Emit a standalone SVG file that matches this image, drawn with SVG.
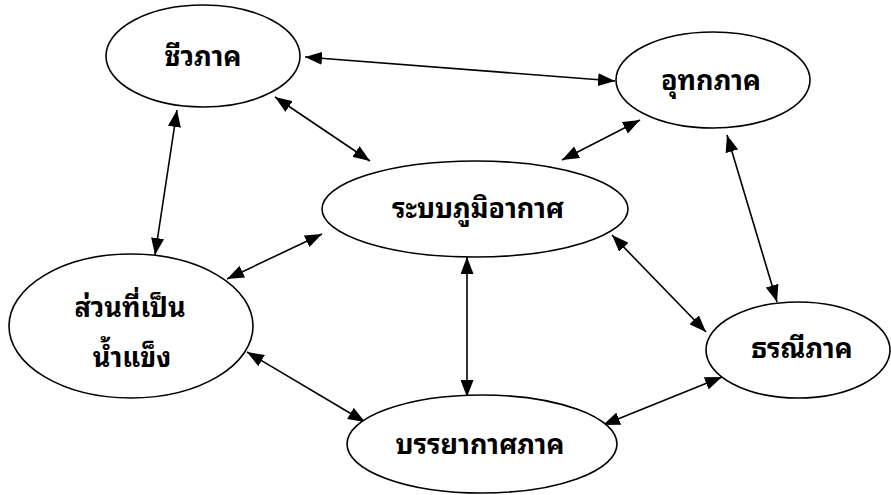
<svg xmlns="http://www.w3.org/2000/svg" width="891" height="495" viewBox="0 0 891 495">
<style>
.node ellipse{fill:#fff;stroke:#000;stroke-width:1.6}
.node text{font-family:"Noto Sans Thai Looped","Noto Sans Thai","Tahoma","Noto Sans","DejaVu Sans",sans-serif;font-size:27px;font-weight:bold;text-anchor:middle;fill:#000}
.conn line{stroke:#000;stroke-width:1.6;marker-start:url(#ah);marker-end:url(#ah)}
</style>
<defs>
<marker id="ah" viewBox="0 0 17 13" refX="17" refY="6.5" markerWidth="17" markerHeight="13" markerUnits="userSpaceOnUse" orient="auto-start-reverse">
<path d="M0,0 L17,6.5 L0,13 Z" fill="#000"/>
</marker>
</defs>
<rect width="891" height="495" fill="#fff"/>
<g class="conn">
<line x1="305" y1="57" x2="615" y2="81"/>
<line x1="275" y1="97" x2="370" y2="161"/>
<line x1="640" y1="120" x2="562" y2="160"/>
<line x1="177" y1="110" x2="155" y2="255"/>
<line x1="322" y1="234" x2="227" y2="279"/>
<line x1="467" y1="257" x2="467" y2="397"/>
<line x1="612" y1="235" x2="706" y2="332"/>
<line x1="727" y1="135" x2="777" y2="302"/>
<line x1="247" y1="352" x2="365" y2="422"/>
<line x1="603" y1="425" x2="722" y2="377"/>
</g>
<g id="n-biosphere" class="node"><ellipse cx="203" cy="56" rx="97" ry="51"/><text x="203" y="66">ชีวภาค</text></g>
<g id="n-hydrosphere" class="node"><ellipse cx="713" cy="80" rx="97" ry="48"/><text x="711" y="90">อุทกภาค</text></g>
<g id="n-climate" class="node"><ellipse cx="475" cy="209" rx="153" ry="48"/><text x="478" y="218">ระบบภูมิอากาศ</text></g>
<g id="n-cryosphere" class="node"><ellipse cx="131" cy="326" rx="122" ry="72"/><text x="130" y="317">ส่วนที่เป็น</text><text x="132" y="367">น้ำแข็ง</text></g>
<g id="n-lithosphere" class="node"><ellipse cx="798" cy="350" rx="92" ry="48"/><text x="802" y="358">ธรณีภาค</text></g>
<g id="n-atmosphere" class="node"><ellipse cx="482" cy="444" rx="135" ry="49"/><text x="480" y="454">บรรยากาศภาค</text></g>
</svg>
